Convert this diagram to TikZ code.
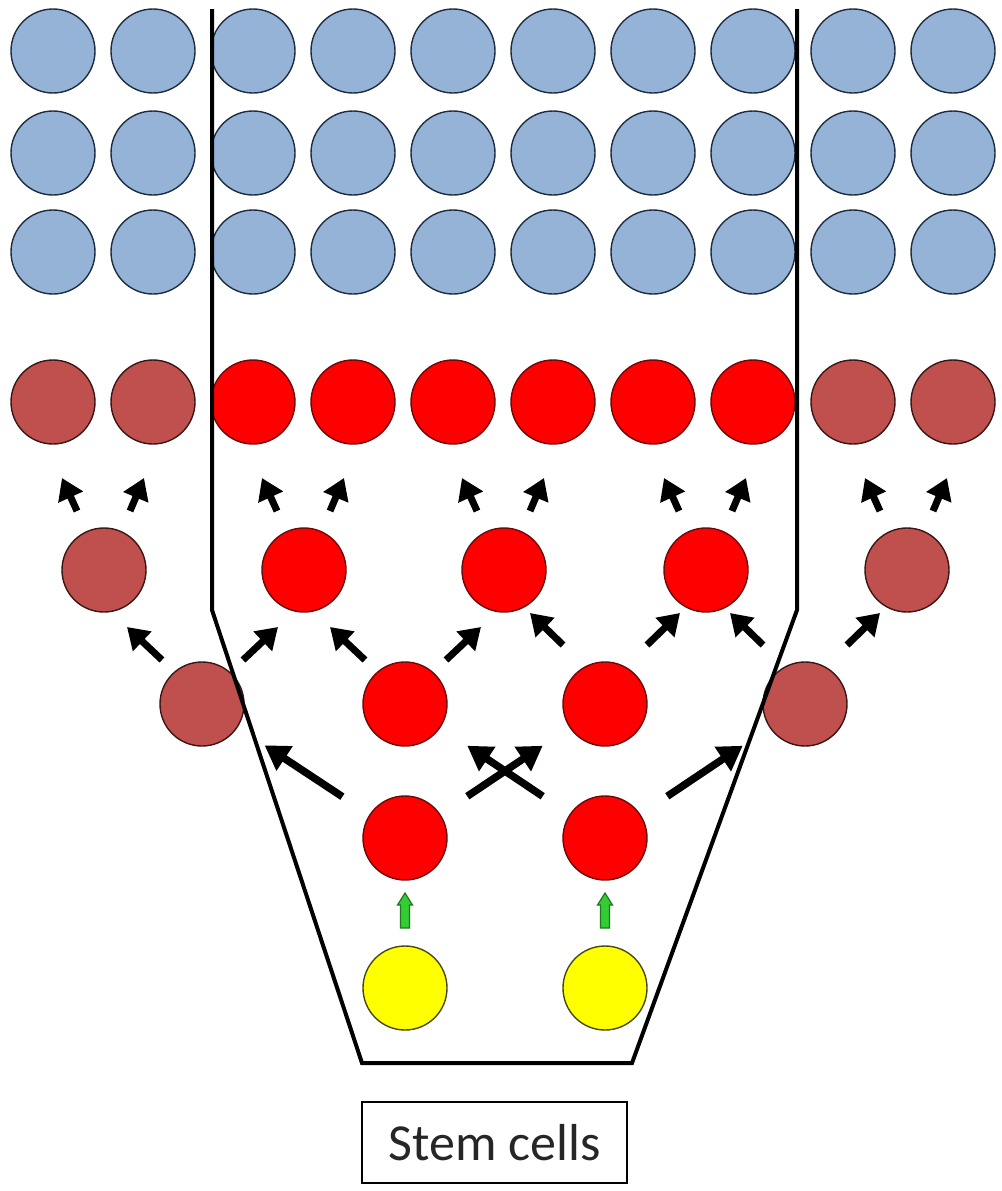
\documentclass[tikz,border=0pt]{standalone}
\usepackage{fontspec}
\setmainfont{Carlito}
\usetikzlibrary{arrows.meta,calc}
\definecolor{cellblue}{HTML}{95B3D7}
\definecolor{blueline}{HTML}{1F2D40}
\definecolor{cellred}{HTML}{FF0000}
\definecolor{redline}{HTML}{6A0A0A}
\definecolor{cellbrown}{HTML}{C0504D}
\definecolor{brownline}{HTML}{3A1616}
\definecolor{cellyellow}{HTML}{FFFF00}
\definecolor{yellowline}{HTML}{4A4A10}
\definecolor{arrgreen}{HTML}{33CC33}
\definecolor{arrgreenline}{HTML}{1E7A1E}
\definecolor{textgray}{HTML}{262626}
\begin{document}
\begin{tikzpicture}[x=1pt,y=-1pt,
  cell/.style={circle,minimum size=84pt,inner sep=0pt,line width=1.4pt},
  bluecell/.style={cell,fill=cellblue,draw=blueline},
  redcell/.style={cell,fill=cellred,draw=redline},
  browncell/.style={cell,fill=cellbrown,draw=brownline},
  yellowcell/.style={cell,fill=cellyellow,draw=yellowline},
  arrsmall/.style={line width=7pt,-{Triangle[length=21pt,width=26pt]}},
  arrmid/.style={line width=7pt,-{Triangle[length=21pt,width=26pt]}},
  arrlong/.style={line width=7.5pt,-{Triangle[length=24pt,width=28pt]},shorten <=75pt,shorten >=75pt},
  greenarr/.style={fill=arrgreen,draw=arrgreenline,line width=1.2pt,line join=miter},
  funnel/.style={line width=4pt,line join=miter},
  label box/.style={draw,line width=1.4pt,minimum width=265pt,minimum height=81pt,inner sep=0pt,text=textgray,font=\fontsize{52}{60}\selectfont}
]
\useasboundingbox (0,0) rectangle (1001,1191);
\fill[white] (0,0) rectangle (1001,1191);
% blue rows
\foreach \r/\y in {1/51,2/153,3/252}{
  \foreach \c in {1,...,10}{
    \node[bluecell] (b\r-\c) at ({53+100*(\c-1)},\y) {};
  }
}
% top red / brown row
\foreach \c in {1,2,9,10}{
  \node[browncell] (t\c) at ({53+100*(\c-1)},402) {};
}
\foreach \c in {3,...,8}{
  \node[redcell] (t\c) at ({53+100*(\c-1)},402) {};
}
% level 2
\node[browncell] (m1) at (104,570) {};
\node[redcell] (m2) at (304,570) {};
\node[redcell] (m3) at (504,570) {};
\node[redcell] (m4) at (706,570) {};
\node[browncell] (m5) at (907,570) {};
% level 3
\node[browncell] (n1) at (202,704) {};
\node[redcell] (n2) at (405,704) {};
\node[redcell] (n3) at (605,704) {};
\node[browncell] (n4) at (805,704) {};
% level 4
\node[redcell] (p1) at (405,838) {};
\node[redcell] (p2) at (605,838) {};
% stem cells
\node[yellowcell] (s1) at (405,988) {};
\node[yellowcell] (s2) at (605,988) {};
% arrows level 2 -> top row
\foreach \m in {m1,m2,m3,m4,m5}{
  \draw[arrsmall] ($(\m)+(-27,-59)$) -- ($(\m)+(-42,-92)$);
  \draw[arrsmall] ($(\m)+(26,-59)$) -- ($(\m)+(40,-92)$);
}
% arrows level 3 -> level 2
\foreach \n in {n1,n2}{
  \draw[arrmid] ($(\n)+(-40,-44)$) -- ($(\n)+(-75,-77)$);
  \draw[arrmid] ($(\n)+(41,-44)$) -- ($(\n)+(76,-77)$);
}
\foreach \n in {n3,n4}{
  \draw[arrmid] ($(\n)+(-42,-59)$) -- ($(\n)+(-75,-91)$);
  \draw[arrmid] ($(\n)+(42,-59)$) -- ($(\n)+(75,-91)$);
}
% arrows level 4 -> level 3
\draw[arrlong] (p1.center) -- (n1.center);
\draw[arrlong] (p1.center) -- (n3.center);
\draw[arrlong] (p2.center) -- (n2.center);
\draw[arrlong] (p2.center) -- (n4.center);
% green arrows stem -> level 4
\foreach \s in {s1,s2}{
  \draw[greenarr] ($(\s)+(-4.5,-60)$) -- ($(\s)+(-4.5,-83)$) -- ($(\s)+(-7.5,-83)$)
    -- ($(\s)+(0,-95)$) -- ($(\s)+(7.5,-83)$) -- ($(\s)+(4.5,-83)$) -- ($(\s)+(4.5,-60)$) -- cycle;
}
% funnel
\coordinate (f1) at (212,9);
\coordinate (f2) at (212,610);
\coordinate (f3) at (362,1063);
\coordinate (f4) at (632,1063);
\coordinate (f5) at (797,610);
\coordinate (f6) at (797,9);
\draw[funnel] (f1) -- (f2) -- (f3) -- (f4) -- (f5) -- (f6);
% label
\node[label box] (lbl) at (494.5,1142.5) {Stem cells};
\end{tikzpicture}
\end{document}
